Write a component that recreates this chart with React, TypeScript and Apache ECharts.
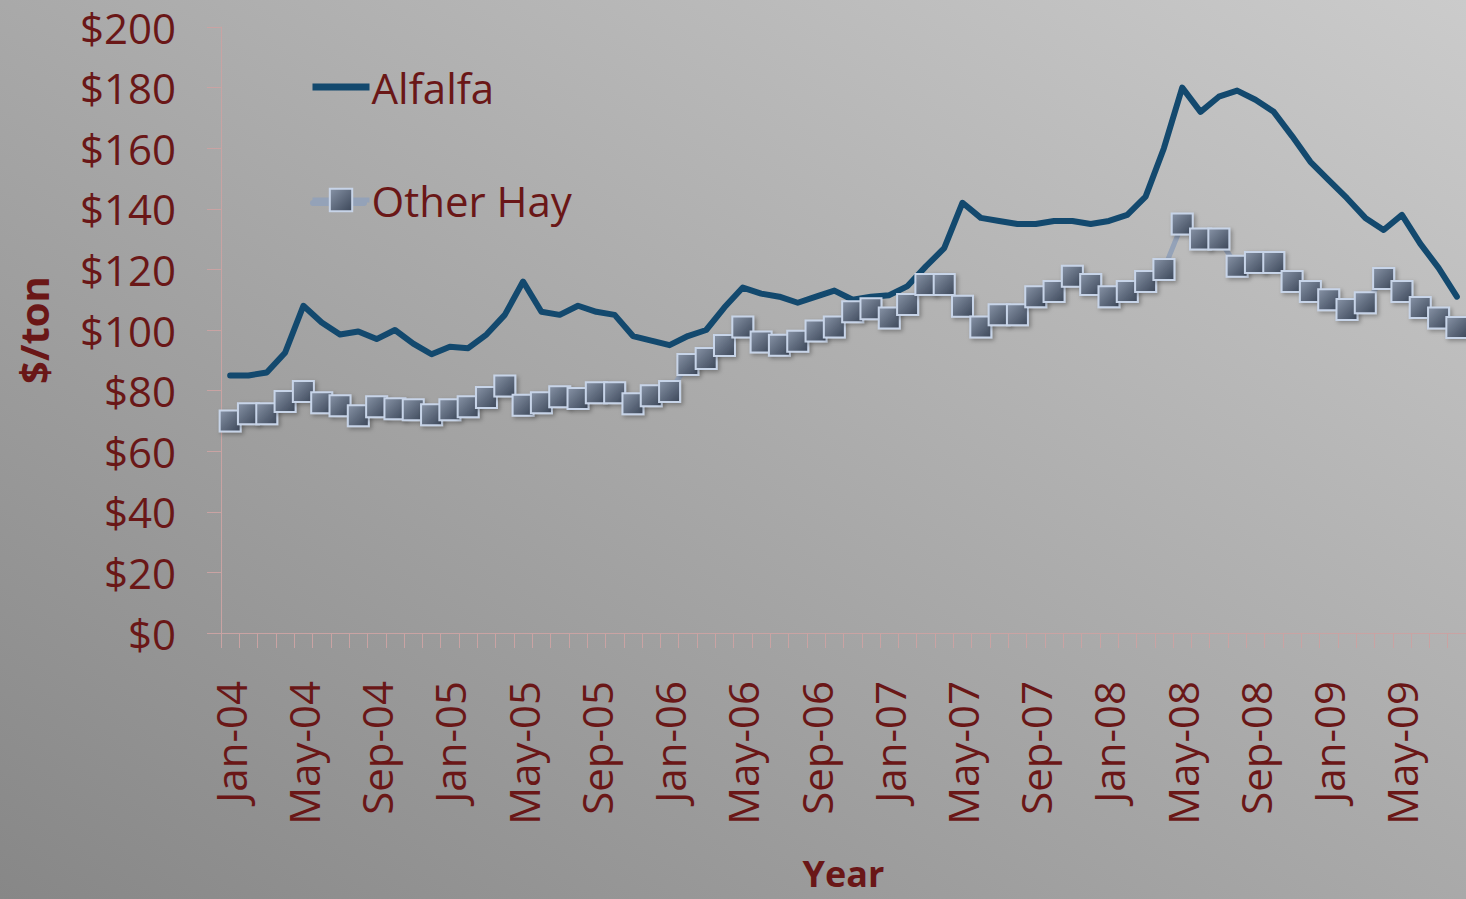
import React, { useEffect, useRef } from "react";
import * as echarts from "echarts";

const months = ["Jan", "Feb", "Mar", "Apr", "May", "Jun", "Jul", "Aug", "Sep", "Oct", "Nov", "Dec"];
const years = ["04", "05", "06", "07", "08", "09"];
const categories: string[] = [];
years.forEach((y) => months.forEach((m) => categories.push(`${m}-${y}`)));
const monthLabels = categories.slice(0, 68);

const alfalfa = [
  85, 85, 86, 92.5, 108, 102.5, 98.5, 99.5, 97, 100, 95.5, 92,
  94.5, 94, 98.5, 105, 116, 106, 105, 108, 106, 105, 98, 96.5,
  95, 98, 100, 107.5, 114, 112, 111, 109, 111, 113, 110, 111,
  111.5, 114.5, 121, 127, 142, 137, 136, 135, 135, 136, 136, 135,
  136, 138, 144, 160, 180, 172, 177, 179, 176, 172, 164, 155.5,
  149.5, 143.5, 137, 133, 138, 128.5, 120.5, 111,
];

const otherHay = [
  70, 72.4, 72.4, 76.4, 79.7, 76, 75, 71.7, 74.7, 74, 73.7, 72,
  73.7, 74.7, 77.7, 81.5, 75.2, 76, 78, 77.4, 79.3, 79.3, 75.7, 78.3,
  79.7, 88.6, 90.6, 94.9, 101, 96, 95, 96.3, 99.7, 101, 106, 107,
  104, 108.4, 115, 115, 107.8, 101, 105, 105, 111, 112.7, 117.7, 115,
  111, 112.7, 116, 120, 135, 130, 130, 121, 122.3, 122.3, 116, 112.7,
  110, 106.8, 109, 117, 112.7, 107.4, 104, 100.8,
];

const yTicks = { min: 0, max: 200, interval: 20 };

const textColor = "#6a1717";
const axisColor = "#c9a3a3";
const hayLine = "#94a2b8";
const fontFamily = "'Open Sans', sans-serif";

export default function App() {
  const ref = useRef<HTMLDivElement>(null);

  useEffect(() => {
    document.body.style.margin = "0";
    if (!ref.current) return;
    const chart = echarts.init(ref.current, undefined, { renderer: "svg" });
    chart.setOption({
      animation: false,
      backgroundColor: "transparent",
      textStyle: { fontFamily },
      grid: { left: 221, right: -1, top: 27, bottom: 266, containLabel: false },
      graphic: [
        {
          type: "line",
          z: 3,
          silent: true,
          shape: { x1: 313, y1: 203, x2: 364, y2: 203 },
          style: { stroke: hayLine, lineWidth: 6, lineCap: "round" },
        },
      ],
      legend: {
        orient: "vertical",
        left: 310,
        top: 66,
        padding: 0,
        z: 5,
        itemWidth: 57,
        itemHeight: 28,
        itemGap: 71,
        lineStyle: { width: 5, color: hayLine, opacity: 1 },
        textStyle: { color: textColor, fontSize: 42, lineHeight: 40, fontFamily, padding: [0, 0, 0, -3] },
        data: [
          { name: "Alfalfa", icon: "path://M0,0 L57,0 L57,7 L0,7 Z" },
          { name: "Other Hay" },
        ],
      },
      xAxis: {
        type: "category",
        data: monthLabels,
        boundaryGap: true,
        name: "Year",
        nameLocation: "middle",
        nameGap: 222,
        nameTextStyle: { color: textColor, fontSize: 36, lineHeight: 36, fontWeight: "bold", fontFamily },
        axisLine: { lineStyle: { color: axisColor, width: 1 } },
        axisTick: { show: true, interval: 0, length: 15, lineStyle: { color: axisColor } },
        axisLabel: {
          interval: 3,
          rotate: 90,
          margin: 48,
          color: textColor,
          fontSize: 42,
          fontFamily,
        },
        splitLine: { show: false },
      },
      yAxis: {
        type: "value",
        min: yTicks.min,
        max: yTicks.max,
        interval: yTicks.interval,
        name: "$/ton",
        nameLocation: "middle",
        nameGap: 168,
        nameRotate: 90,
        nameTextStyle: { color: textColor, fontSize: 40, fontWeight: "bold", fontFamily },
        axisLine: { show: true, lineStyle: { color: axisColor, width: 1 } },
        axisTick: { show: true, length: 14, lineStyle: { color: axisColor } },
        axisLabel: {
          margin: 45,
          color: textColor,
          fontSize: 42,
          fontFamily,
          formatter: (v: number) => "$" + v,
        },
        splitLine: { show: false },
      },
      series: [
        {
          name: "Alfalfa",
          type: "line",
          data: alfalfa,
          symbol: "none",
          showSymbol: false,
          lineStyle: { color: "#13496e", width: 6, cap: "round", join: "round" },
          itemStyle: { color: "#13496e" },
          z: 2,
        },
        {
          name: "Other Hay",
          type: "line",
          data: otherHay,
          symbol: "rect",
          symbolSize: 21,
          showSymbol: true,
          showAllSymbol: true,
          lineStyle: { color: hayLine, width: 5, join: "round" },
          itemStyle: {
            color: new echarts.graphic.LinearGradient(0, 0, 1, 1, [
              { offset: 0, color: "#8793a6" },
              { offset: 1, color: "#3b4658" },
            ]),
            borderColor: "#c7d4e8",
            borderWidth: 2,
            shadowBlur: 4,
            shadowOffsetX: 2,
            shadowOffsetY: 2,
            shadowColor: "rgba(0,0,0,0.3)",
          },
          z: 3,
        },
      ],
    });
    return () => chart.dispose();
  }, []);

  return (
    <div
      ref={ref}
      style={{
        width: 1466,
        height: 899,
        background: "linear-gradient(to top right, #878787 0%, #a9a9a9 50%, #cbcbcb 100%)",
      }}
    />
  );
}
